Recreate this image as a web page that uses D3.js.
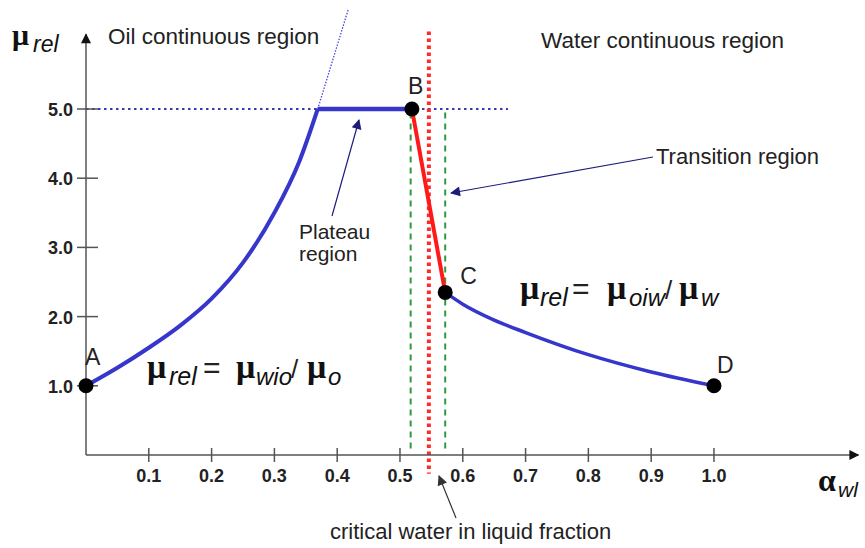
<!DOCTYPE html>
<html>
<head>
<meta charset="utf-8">
<script src="https://cdn.jsdelivr.net/npm/d3@7"></script>
<style>
  body { margin: 0; background: #fff; }
  svg { display: block; }
  .tick-label { font-family: "Liberation Sans Narrow", "Liberation Sans", Arial, sans-serif; font-weight: bold; font-size: 18px; fill: #222; }
  .note { font-family: "Liberation Sans", Arial, sans-serif; fill: #222; }
  .mu { font-family: "Liberation Serif", "Times New Roman", serif; font-weight: bold; }
  .sub { font-family: "Liberation Sans", Arial, sans-serif; font-style: italic; }
</style>
</head>
<body>
<div id="chart"></div>
<script>
// axis ticks
var xTicks = [0.1, 0.2, 0.3, 0.4, 0.5, 0.6, 0.7, 0.8, 0.9, 1.0];
var yTicks = [1.0, 2.0, 3.0, 4.0, 5.0];

// oil continuous branch (A -> start of plateau)
var oilX = [0, 0.05, 0.1, 0.15, 0.2, 0.25, 0.3, 0.34, 0.369];
var oilY = [1.0, 1.26, 1.55, 1.87, 2.26, 2.78, 3.5, 4.25, 5.0];

// extrapolated part of the oil branch above the plateau
var extX = [0.369, 0.418];
var extY = [5.0, 6.45];

// plateau and transition
var plateauX = [0.369, 0.519];
var plateauY = [5.0, 5.0];
var transX = [0.519, 0.572];
var transY = [5.0, 2.35];

// water continuous branch (C -> D)
var waterX = [0.572, 0.6, 0.65, 0.7, 0.8, 0.9, 1.0];
var waterY = [2.35, 2.18, 1.95, 1.77, 1.45, 1.2, 1.0];

var pointNames = ['A', 'B', 'C', 'D'];
var pointX = [0, 0.519, 0.572, 1.0];
var pointY = [1.0, 5.0, 2.35, 1.0];

var plateauLevel = 5.0;
var plateauRefEnd = 0.672;
var criticalWater = 0.546;
var transitionBounds = [0.517, 0.572];

var width = 865, height = 548;

var x = d3.scaleLinear().domain([0, 1.23]).range([86, 858.4]);
var y = d3.scaleLinear().domain([0, 6.5]).range([455, 5.2]);

function pairs(xs, ys) {
  return xs.map(function(v, i) { return [v, ys[i]]; });
}

var svg = d3.select('#chart').append('svg')
    .attr('width', width)
    .attr('height', height);

var defs = svg.append('defs');
function marker(id, color, w, h) {
  defs.append('marker')
      .attr('id', id)
      .attr('viewBox', '0 0 10 10')
      .attr('refX', 9).attr('refY', 5)
      .attr('markerUnits', 'userSpaceOnUse')
      .attr('markerWidth', w).attr('markerHeight', h)
      .attr('orient', 'auto')
    .append('path')
      .attr('d', 'M0,0 L10,5 L0,10 z')
      .attr('fill', color);
}
marker('axisArrow', '#111', 14, 10);
marker('navyArrow', '#1c1c7a', 13, 10);
marker('darkArrow', '#333', 13, 10);

var line = d3.line()
    .x(function(d) { return x(d[0]); })
    .y(function(d) { return y(d[1]); });

var curve = d3.line()
    .curve(d3.curveMonotoneX)
    .x(function(d) { return x(d[0]); })
    .y(function(d) { return y(d[1]); });

// reference lines
svg.append('path')
    .attr('d', line([[0, plateauLevel], [plateauRefEnd, plateauLevel]]))
    .attr('stroke', '#3a3ab0').attr('stroke-width', 2.2)
    .attr('stroke-dasharray', '2.5,3.5').attr('fill', 'none');

svg.append('path')
    .attr('d', line(pairs(extX, extY)))
    .attr('stroke', '#4646d8').attr('stroke-width', 1.3)
    .attr('stroke-dasharray', '1.5,1.5').attr('fill', 'none');

transitionBounds.forEach(function(v) {
  svg.append('line')
      .attr('x1', x(v)).attr('x2', x(v))
      .attr('y1', y(4.95)).attr('y2', y(0.05))
      .attr('stroke', '#2e9a40').attr('stroke-width', 2)
      .attr('stroke-dasharray', '6,5');
});

svg.append('line')
    .attr('x1', x(criticalWater)).attr('x2', x(criticalWater))
    .attr('y1', y(6.12)).attr('y2', y(-0.27))
    .attr('stroke', '#ff2a2a').attr('stroke-width', 4)
    .attr('stroke-dasharray', '3.5,3.5');

// axes
var axes = svg.append('g').attr('stroke', '#555').attr('stroke-width', 1.5);
axes.append('line')
    .attr('x1', x(0)).attr('x2', x(1.23))
    .attr('y1', y(0)).attr('y2', y(0))
    .attr('marker-end', 'url(#axisArrow)');
axes.append('line')
    .attr('x1', x(0)).attr('x2', x(0))
    .attr('y1', y(0)).attr('y2', y(6.08))
    .attr('marker-end', 'url(#axisArrow)');

axes.selectAll('.xt').data(xTicks).enter().append('line')
    .attr('x1', function(d) { return x(d); }).attr('x2', function(d) { return x(d); })
    .attr('y1', y(0) - 7).attr('y2', y(0) + 7);
axes.selectAll('.yt').data(yTicks).enter().append('line')
    .attr('x1', x(0) - 9).attr('x2', x(0) + 12)
    .attr('y1', function(d) { return y(d); }).attr('y2', function(d) { return y(d); });

svg.selectAll('.xl').data(xTicks).enter().append('text')
    .attr('class', 'tick-label')
    .attr('x', function(d) { return x(d); })
    .attr('y', y(0) + 27)
    .attr('text-anchor', 'middle')
    .text(function(d) { return d3.format('.1f')(d); });

svg.selectAll('.yl').data(yTicks).enter().append('text')
    .attr('class', 'tick-label')
    .attr('x', x(0) - 13)
    .attr('y', function(d) { return y(d) + 7; })
    .attr('text-anchor', 'end')
    .text(function(d) { return d3.format('.1f')(d); });

// curves
svg.append('path')
    .attr('d', curve(pairs(oilX, oilY)))
    .attr('stroke', '#3636cc').attr('stroke-width', 4).attr('fill', 'none');
svg.append('path')
    .attr('d', line(pairs(plateauX, plateauY)))
    .attr('stroke', '#3636cc').attr('stroke-width', 4.5).attr('fill', 'none');
svg.append('path')
    .attr('d', curve(pairs(waterX, waterY)))
    .attr('stroke', '#3636cc').attr('stroke-width', 3.5).attr('fill', 'none');
svg.append('path')
    .attr('d', line(pairs(transX, transY)))
    .attr('stroke', '#ff1a1a').attr('stroke-width', 4).attr('fill', 'none');

// points A-D
var pts = pairs(pointX, pointY);
svg.selectAll('.pt').data(pts).enter().append('circle')
    .attr('cx', function(d) { return x(d[0]); })
    .attr('cy', function(d) { return y(d[1]); })
    .attr('r', 7.5)
    .attr('fill', '#000');

var labelOffsets = [[-1, -21], [-4, -15], [15, -8], [3, -13]];
svg.selectAll('.pl').data(pts).enter().append('text')
    .attr('class', 'note')
    .attr('font-size', 23)
    .attr('x', function(d, i) { return x(d[0]) + labelOffsets[i][0]; })
    .attr('y', function(d, i) { return y(d[1]) + labelOffsets[i][1]; })
    .text(function(d, i) { return pointNames[i]; });

// region notes
function note(tx, ty, size, str) {
  return svg.append('text').attr('class', 'note')
      .attr('x', tx).attr('y', ty)
      .attr('font-size', size)
      .text(str);
}
note(108, 44, 22.5, 'Oil continuous region');
note(541, 48, 22.5, 'Water continuous region');
note(656, 164, 22, 'Transition region');
note(299, 239, 21, 'Plateau');
note(299, 261, 21, 'region');
note(330, 539, 22, 'critical water in liquid fraction');

// arrows
function arrow(x1, y1, x2, y2, id, color) {
  svg.append('line')
      .attr('x1', x1).attr('y1', y1).attr('x2', x2).attr('y2', y2)
      .attr('stroke', color).attr('stroke-width', 1.2)
      .attr('marker-end', 'url(#' + id + ')');
}
arrow(332, 216, 359, 120, 'navyArrow', '#1c1c7a');
arrow(653, 157, 451, 193, 'navyArrow', '#1c1c7a');
arrow(456, 518, 439, 476, 'darkArrow', '#333');

// axis titles and formulas: each part placed at its own x
function formula(ty, parts) {
  var t = svg.append('text').attr('y', ty).attr('fill', '#111');
  parts.forEach(function(p) {
    t.append('tspan')
        .attr('class', p.cls)
        .attr('font-size', p.size)
        .attr('x', p.x)
        .attr('y', ty + (p.dy || 0))
        .text(p.text);
  });
}

formula(45, [
  { cls: 'mu', size: 30, text: 'μ', x: 12 },
  { cls: 'sub', size: 23, text: 'rel', x: 33, dy: 7 }
]);

formula(491, [
  { cls: 'mu', size: 32, text: 'α', x: 818 },
  { cls: 'sub', size: 21, text: 'wl', x: 838, dy: 6 }
]);

formula(378, [
  { cls: 'mu', size: 34, text: 'μ', x: 147 },
  { cls: 'sub', size: 25, text: 'rel', x: 169, dy: 7 },
  { cls: 'note', size: 30, text: '=', x: 203 },
  { cls: 'mu', size: 34, text: 'μ', x: 236 },
  { cls: 'sub', size: 24, text: 'wio', x: 256, dy: 7 },
  { cls: 'note', size: 26, text: '/', x: 291 },
  { cls: 'mu', size: 34, text: 'μ', x: 307 },
  { cls: 'sub', size: 24, text: 'o', x: 328, dy: 7 }
]);

formula(299, [
  { cls: 'mu', size: 34, text: 'μ', x: 520 },
  { cls: 'sub', size: 25, text: 'rel', x: 540, dy: 7 },
  { cls: 'note', size: 30, text: '=', x: 572 },
  { cls: 'mu', size: 34, text: 'μ', x: 607 },
  { cls: 'sub', size: 24, text: 'oiw', x: 629, dy: 7 },
  { cls: 'note', size: 26, text: '/', x: 665 },
  { cls: 'mu', size: 34, text: 'μ', x: 679 },
  { cls: 'sub', size: 24, text: 'w', x: 701, dy: 7 }
]);
</script>
</body>
</html>
